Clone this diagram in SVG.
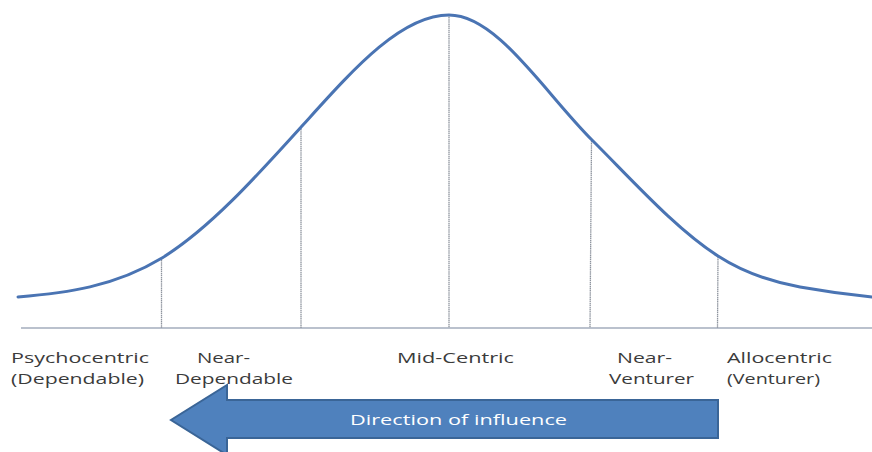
<svg xmlns="http://www.w3.org/2000/svg" width="872" height="452" viewBox="0 0 872 452">
<style>
.lbl{font-family:"Open Sans","DejaVu Sans",sans-serif;font-size:15px;fill:#3b3b3b}
.div{stroke:#8e949e;stroke-width:1.3;stroke-dasharray:1.5 0.6}
.curve{fill:none;stroke:#4a74b3;stroke-width:3;stroke-linecap:round}
</style>
<rect width="872" height="452" fill="#ffffff"/>
<g id="connectors">
  <line id="baseline" x1="21" y1="328" x2="872" y2="328" stroke="#a3adbd" stroke-width="1.6"/>
  <line class="div" x1="161.5" y1="258" x2="161.5" y2="328"/>
  <line class="div" x1="301" y1="127" x2="301" y2="328"/>
  <line class="div" x1="449" y1="15" x2="449" y2="328"/>
  <line class="div" x1="591.5" y1="141" x2="590" y2="328"/>
  <line class="div" x1="718" y1="257" x2="717.5" y2="328"/>
</g>
<g id="curve">
  <path class="curve" d="M18,297 C66,293 114,287 162,258 C209,229 255,178 302,126 C351,72 400,15 449,15 C497,15 544,92 592,140 C634,182 676,229 718,256 C745,273.5 773,282 800,287 C824,291.3 848,294.6 872,297"/>
</g>
<g id="label-psychocentric">
  <text class="lbl" x="11" y="363" textLength="138" lengthAdjust="spacingAndGlyphs">Psychocentric</text>
  <text class="lbl" x="11" y="384" textLength="133" lengthAdjust="spacingAndGlyphs">(Dependable)</text>
</g>
<g id="label-near-dependable">
  <text class="lbl" x="197" y="363" textLength="53" lengthAdjust="spacingAndGlyphs">Near-</text>
  <text class="lbl" x="175" y="384" textLength="118" lengthAdjust="spacingAndGlyphs">Dependable</text>
</g>
<g id="label-mid-centric">
  <text class="lbl" x="397" y="363" textLength="117" lengthAdjust="spacingAndGlyphs">Mid-Centric</text>
</g>
<g id="label-near-venturer">
  <text class="lbl" x="617" y="363" textLength="55" lengthAdjust="spacingAndGlyphs">Near-</text>
  <text class="lbl" x="609" y="384" textLength="85" lengthAdjust="spacingAndGlyphs">Venturer</text>
</g>
<g id="label-allocentric">
  <text class="lbl" x="727" y="363" textLength="105" lengthAdjust="spacingAndGlyphs">Allocentric</text>
  <text class="lbl" x="727" y="384" textLength="93" lengthAdjust="spacingAndGlyphs">(Venturer)</text>
</g>
<g id="arrow-direction">
  <path d="M718,400 L227,400 L227,385 L171,420 L227,455 L227,438 L718,438 Z" fill="#4f81bd" stroke="#3a6597" stroke-width="2" stroke-linejoin="miter"/>
  <text x="350" y="425" font-family="'Open Sans','DejaVu Sans',sans-serif" font-size="14" fill="#ffffff" textLength="217" lengthAdjust="spacingAndGlyphs">Direction of influence</text>
</g>
</svg>
